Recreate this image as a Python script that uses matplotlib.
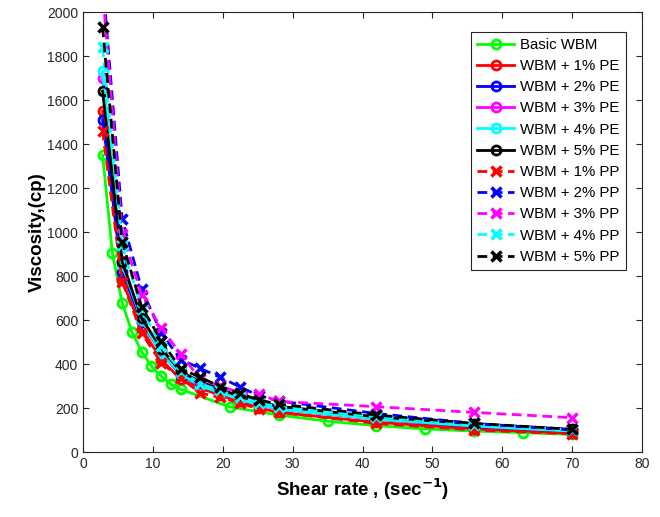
"""Viscosity vs shear rate for WBM with PE / PP additives."""
import matplotlib
matplotlib.use('Agg')
import matplotlib.pyplot as plt

plt.rcParams.update({
    'font.family': ['Liberation Sans', 'DejaVu Sans'],
    'font.size': 10,
    'axes.linewidth': 0.8,
})

# shear rate (1/s)
shear_basic = [2.8, 4.2, 5.6, 7.0, 8.4, 9.8, 11.2, 12.6, 14.0, 21, 28, 35, 42, 49, 56, 63, 70]
shear = [2.8, 5.6, 8.4, 11.2, 14, 16.8, 19.6, 22.4, 25.2, 28, 42, 56, 70]

# viscosity (cp)
visc_basic = [1350, 905, 678, 545, 456, 390, 345, 308, 285, 205, 168, 140, 120, 105, 95, 88, 80]

visc_pe1 = [1550, 780, 560, 420, 330, 290, 258, 230, 200, 180, 135, 105, 85]
visc_pe2 = [1510, 820, 590, 450, 350, 300, 270, 245, 215, 195, 150, 115, 95]
visc_pe3 = [1700, 870, 600, 460, 360, 305, 275, 245, 218, 200, 150, 118, 95]
visc_pe4 = [1730, 850, 600, 448, 355, 300, 270, 240, 215, 195, 150, 118, 95]
visc_pe5 = [1640, 865, 607, 470, 365, 320, 285, 255, 228, 208, 160, 128, 103]

visc_pp1 = [1460, 775, 540, 405, 335, 268, 248, 224, 194, 180, 130, 100, 82]
visc_pp2 = [2150, 1060, 740, 540, 420, 380, 340, 297, 255, 232, 175, 130, 100]
visc_pp3 = [2100, 990, 715, 562, 445, 330, 300, 270, 262, 230, 206, 180, 156]
visc_pp4 = [1840, 940, 650, 480, 370, 310, 280, 250, 225, 205, 160, 125, 100]
visc_pp5 = [1930, 955, 660, 505, 378, 340, 297, 267, 236, 218, 168, 130, 103]

labels_pe = ['WBM + 1% PE', 'WBM + 2% PE', 'WBM + 3% PE', 'WBM + 4% PE', 'WBM + 5% PE']
labels_pp = ['WBM + 1% PP', 'WBM + 2% PP', 'WBM + 3% PP', 'WBM + 4% PP', 'WBM + 5% PP']
colors = ['#ff0000', '#0000ff', '#ff00ff', '#00ffff', '#000000']

fig = plt.figure(figsize=(6.6, 5.17), dpi=100)
ax = fig.add_axes([0.1258, 0.1257, 0.8469, 0.851])

ax.plot(shear_basic, visc_basic, '-o', color='#00ff00', lw=2, ms=6.5,
        mfc='none', mew=2, label='Basic WBM')
for vals, lab, c in zip([visc_pe1, visc_pe2, visc_pe3, visc_pe4, visc_pe5], labels_pe, colors):
    ax.plot(shear, vals, '-o', color=c, lw=2, ms=6.5, mfc='none', mew=2, label=lab)
for vals, lab, c in zip([visc_pp1, visc_pp2, visc_pp3, visc_pp4, visc_pp5], labels_pp, colors):
    ax.plot(shear, vals, '--x', color=c, lw=2, ms=7, mew=2.5, dashes=(3.5, 2), label=lab)

ax.set_xlim(0, 80)
ax.set_ylim(0, 2000)
ax.set_xticks(range(0, 81, 10))
ax.set_yticks(range(0, 2001, 200))
ax.tick_params(direction='in', length=4, top=True, right=True, colors='#262626')
for s in ax.spines.values():
    s.set_color('#262626')

ax.set_xlabel('Shear rate , (sec$^{\\mathbf{-1}}$)', fontsize=13.5, fontweight='bold')
ax.set_ylabel('Viscosity,(cp)', fontsize=13.5, fontweight='bold', labelpad=1)

leg = ax.legend(loc='upper right', bbox_to_anchor=(0.971, 0.955), borderaxespad=0,
                fontsize=10.8, frameon=True, fancybox=False, edgecolor='#262626',
                framealpha=1, handlelength=2.5, handletextpad=0.4,
                labelspacing=0.48, borderpad=0.4)
leg.get_frame().set_linewidth(0.8)

fig.savefig('out.png', dpi=100)
